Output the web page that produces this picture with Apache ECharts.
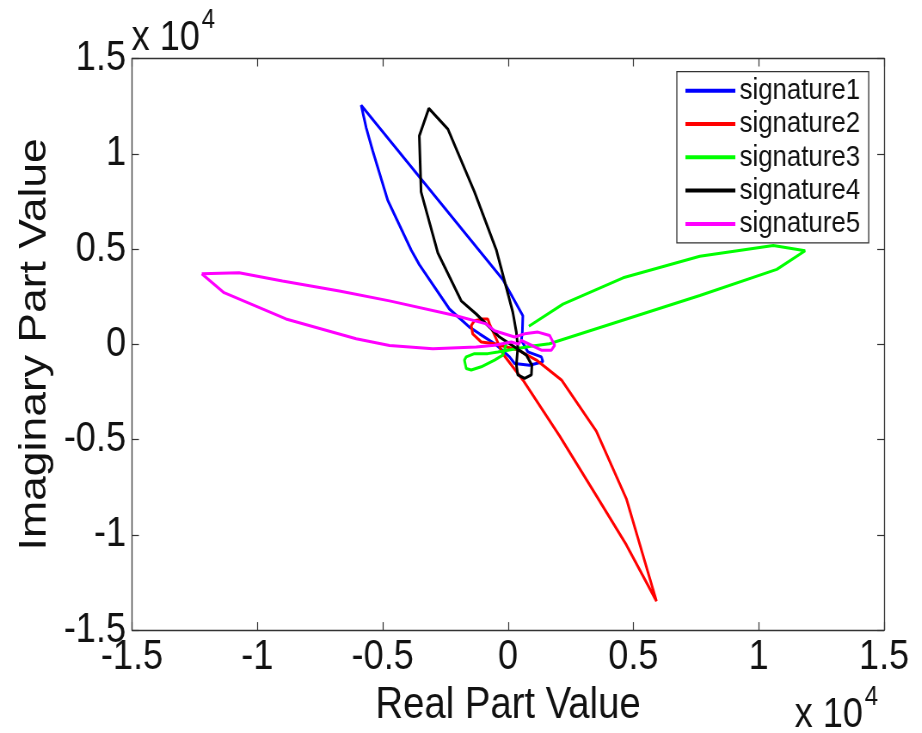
<!DOCTYPE html>
<html>
<head>
<meta charset="utf-8">
<script src="https://cdn.jsdelivr.net/npm/echarts@6/dist/echarts.min.js"></script>
<style>
html,body{margin:0;padding:0;overflow:hidden;background:#fff;width:922px;height:733px;}
#c{width:1072px;height:733px;transform:scaleX(0.86);transform-origin:0 0;}
</style>
</head>
<body>
<div id="c"></div>
<script>
// ---- data (real / imaginary parts) ----
const seriesNames = ['signature1','signature2','signature3','signature4','signature5'];
const seriesColors = ['#0000ff','#ff0000','#00ff00','#000000','#ff00ff'];
const tickLabels = ['-1.5','-1','-0.5','0','0.5','1','1.5'];

const sig1Re = [-1140,-1540,-2340,-3540,-3870,-4800,-5400,-5660,-5860,-210,590,570,530,790,1330,1390,860,260,60,-500,-1140];
const sig1Im = [550,900,1850,4180,4960,7560,10160,11370,12550,3400,1500,640,210,-400,-660,-920,-1100,-1010,-660,0,550];

const sig2Re = [-540,-1070,-1410,-1470,-1340,-1010,-810,-740,-210,590,2060,3520,4720,5920,4720,3520,2130,1130,400,-540];
const sig2Im = [30,120,550,980,1240,1330,1330,1070,-490,-1870,-4820,-7940,-10530,-13480,-8110,-4560,-1870,-830,-300,30];

const sig3Re = [830,2190,4590,7650,10580,11850,10720,7650,1650,900,-410,-810,-1340,-1670,-1740,-1670,-1470,-1070,-540,-210,-70];
const sig3Im = [950,2110,3490,4620,5190,4910,3930,2560,30,-100,-400,-490,-490,-660,-830,-1270,-1350,-1180,-830,-570,30];

const sig4Re = [-340,-1270,-1870,-2800,-3470,-3540,-3160,-2400,-1340,-470,190,330,390,330,390,660,930,950,730,260,-340];
const sig4Im = [380,1590,2280,4790,8000,10940,12380,11290,8000,4960,1680,640,-150,-1090,-1610,-1790,-1610,-1090,-570,-140,380];

const sig5Re = [-12220,-10730,-9000,-6730,-4730,-2070,-870,-540,260,660,1190,1660,1860,1730,1330,930,530,420,130,-540,-1270,-3000,-4730,-6060,-8860,-11330,-12220];
const sig5Im = [3700,3760,3320,2800,2280,1500,1070,710,380,550,640,460,-50,-310,-310,-50,210,10,120,-50,-140,-230,-60,290,1330,2710,3700];

const allRe = [sig1Re,sig2Re,sig3Re,sig4Re,sig5Re];
const allIm = [sig1Im,sig2Im,sig3Im,sig4Im,sig5Im];

// ---- chart ----
const FONT = '"Liberation Sans", Arial, Helvetica, sans-serif';
const chart = echarts.init(document.getElementById('c'), null, {renderer:'canvas'});
const fmt = v => tickLabels[Math.round((v + 15000) / 5000)];
const boxLine = {onZero:false, lineStyle:{color:'#333', width:1.3}};
const tick = {inside:true, length:8, lineStyle:{color:'#333', width:1.2}};

const series = seriesNames.map((n,i) => ({
  name:n, type:'line', xAxisIndex:0, yAxisIndex:0,
  data: allRe[i].map((x,k) => [x, allIm[i][k]]),
  symbol:'none', showSymbol:false, smooth:false,
  lineStyle:{color:seriesColors[i], width:3},
  itemStyle:{color:seriesColors[i]},
  emphasis:{disabled:true}
}));

chart.setOption({
  animation:false,
  textStyle:{fontFamily:FONT},
  grid:{left:153.5, right:44, top:58.5, bottom:97},
  legend:{
    orient:'vertical', left:787, top:71.7,
    padding:[4,10,4,10], itemGap:3.3,
    itemWidth:58, itemHeight:4, icon:'rect',
    backgroundColor:'#fff', borderColor:'#333', borderWidth:1.3,
    textStyle:{fontSize:30, lineHeight:30, color:'#111', fontFamily:FONT},
    data: seriesNames
  },
  xAxis:[{
    type:'value', min:-15000, max:15000, interval:5000, position:'bottom',
    name:'Real Part Value', nameLocation:'middle', nameGap:40,
    nameTextStyle:{fontSize:44.5, color:'#111', fontFamily:FONT},
    axisLine:boxLine, axisTick:tick, splitLine:{show:false},
    axisLabel:{fontSize:42, margin:6, color:'#111', fontFamily:FONT, formatter:fmt}
  },{
    type:'value', min:-15000, max:15000, interval:5000, position:'top',
    axisLine:boxLine, axisTick:tick, splitLine:{show:false}, axisLabel:{show:false}
  }],
  yAxis:[{
    type:'value', min:-15000, max:15000, interval:5000, position:'left',
    name:'Imaginary Part Value', nameLocation:'middle', nameGap:87,
    nameTextStyle:{fontSize:44.5, color:'#111', fontFamily:FONT},
    axisLine:boxLine, axisTick:tick, splitLine:{show:false},
    axisLabel:{fontSize:42, margin:7, color:'#111', fontFamily:FONT, formatter:fmt}
  },{
    type:'value', min:-15000, max:15000, interval:5000, position:'right',
    axisLine:boxLine, axisTick:tick, splitLine:{show:false}, axisLabel:{show:false}
  }],
  graphic:[
    {type:'text', left:153, top:17, style:{text:'x 10', font:'42px '+FONT, fill:'#111'}},
    {type:'text', left:234.5, top:6, style:{text:'4', font:'28px '+FONT, fill:'#111'}},
    {type:'text', left:924, top:694, style:{text:'x 10', font:'42px '+FONT, fill:'#111'}},
    {type:'text', left:1005.5, top:683, style:{text:'4', font:'28px '+FONT, fill:'#111'}}
  ],
  series: series
});
</script>
</body>
</html>
